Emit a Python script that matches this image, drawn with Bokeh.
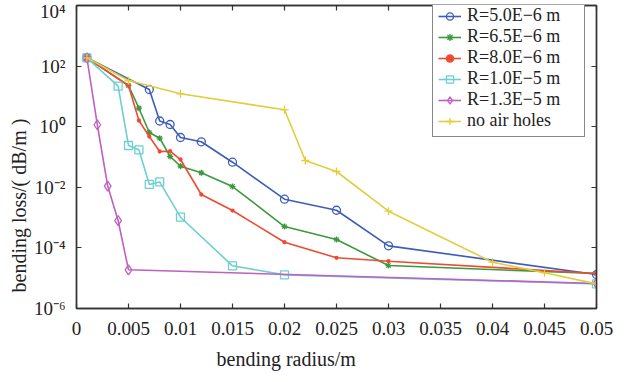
from bokeh.plotting import figure
from bokeh.models import Range1d, FixedTicker, CustomJSTickFormatter, LogAxis, LinearAxis, Title
from bokeh.embed import file_html
from bokeh.resources import INLINE

# ---- data ----
x_r50 = [0.001, 0.007, 0.008, 0.009, 0.010, 0.012, 0.015, 0.020, 0.025, 0.030, 0.050]
y_r50 = [188, 16.9, 1.54, 1.18, 0.44, 0.318, 0.0673, 0.00405, 0.00175, 1.17e-4, 1.32e-5]

x_r65 = [0.001, 0.005, 0.006, 0.007, 0.008, 0.009, 0.010, 0.012, 0.015, 0.020, 0.025, 0.030, 0.050]
y_r65 = [188, 22.9, 4.08, 0.644, 0.417, 0.104, 0.0497, 0.0301, 0.0106, 5.08e-4, 1.89e-4, 2.62e-5, 1.43e-5]

x_r80 = [0.001, 0.005, 0.006, 0.007, 0.008, 0.009, 0.010, 0.012, 0.015, 0.020, 0.025, 0.030, 0.050]
y_r80 = [188, 22.9, 1.6, 0.475, 0.152, 0.155, 0.0826, 0.00578, 0.00171, 1.54e-4, 4.71e-5, 3.64e-5, 1.43e-5]

x_r100 = [0.001, 0.004, 0.005, 0.006, 0.007, 0.008, 0.010, 0.015, 0.020, 0.050]
y_r100 = [188, 21.7, 0.24, 0.173, 0.0124, 0.015, 0.00103, 2.56e-5, 1.29e-5, 6.5e-6]

x_r130 = [0.001, 0.002, 0.003, 0.004, 0.005, 0.050]
y_r130 = [188, 1.16, 0.011, 8.0e-4, 1.89e-5, 6.7e-6]

x_noair = [0.001, 0.005, 0.010, 0.020, 0.022, 0.025, 0.030, 0.040, 0.045, 0.050]
y_noair = [188, 33.5, 12.2, 3.61, 0.0766, 0.0332, 0.00163, 3.37e-5, 1.51e-5, 6.5e-6]

x_ticks = [0, 0.005, 0.01, 0.015, 0.02, 0.025, 0.03, 0.035, 0.04, 0.045, 0.05]
y_ticks = [1e-6, 1e-4, 1e-2, 1e0, 1e2, 1e4]

x_title = "bending radius/m"
y_title = "bending loss/( dB/m )"

series = [
    ("R=5.0E\u22126 m", x_r50, y_r50, "#3d5db8", "circle", 8, False),
    ("R=6.5E\u22126 m", x_r65, y_r65, "#3c9a3c", "asterisk", 6, True),
    ("R=8.0E\u22126 m", x_r80, y_r80, "#f04a32", "circle", 3, True),
    ("R=1.0E\u22125 m", x_r100, y_r100, "#6fcfcf", "square", 8, False),
    ("R=1.3E\u22125 m", x_r130, y_r130, "#c060c0", "diamond", 10, False),
    ("no air holes", x_noair, y_noair, "#e2cd3c", "cross", 8, True),
]

FONT = "Liberation Serif"
TXT = "#222222"
AX = "#333333"

p = figure(width=625, height=382, x_range=Range1d(0, 0.05), y_range=Range1d(1e-6, 1e4),
           y_axis_type="log", output_backend="svg", toolbar_location=None,
           min_border_left=76, min_border_right=29, min_border_top=5, min_border_bottom=74)

p.xgrid.visible = False
p.ygrid.visible = False
p.outline_line_color = AX
p.outline_line_width = 1.4
p.background_fill_color = "white"
p.border_fill_color = "white"

for label, xs, ys, col, mk, sz, filled in series:
    p.line(xs, ys, line_color=col, line_width=1.6, legend_label=label)
    p.scatter(xs, ys, marker=mk, size=sz, line_color=col, line_width=1.3,
              fill_color=col if filled else None, legend_label=label)

x_fmt = CustomJSTickFormatter(code="return String(Number(tick.toFixed(3)));")
y_fmt = CustomJSTickFormatter(code="""
const e = Math.round(Math.log10(tick));
const sup = {'0':'\u2070','1':'\u00b9','2':'\u00b2','3':'\u00b3','4':'\u2074','5':'\u2075','6':'\u2076','7':'\u2077','8':'\u2078','9':'\u2079','-':'\u207b'};
return '10' + String(e).split('').map(c => sup[c]).join('');
""")
empty_fmt = CustomJSTickFormatter(code="return '';")

def style_axis(ax):
    ax.axis_line_color = AX
    ax.axis_line_width = 1.4
    ax.major_tick_line_color = AX
    ax.major_tick_line_width = 1.2
    ax.major_tick_in = 5
    ax.major_tick_out = 0
    ax.minor_tick_in = 0
    ax.minor_tick_out = 0
    ax.major_label_text_font = FONT
    ax.major_label_text_font_size = "19px"
    ax.major_label_text_color = TXT

xa = p.xaxis[0]
xa.ticker = FixedTicker(ticks=x_ticks, minor_ticks=[])
xa.formatter = x_fmt
style_axis(xa)
xa.major_label_standoff = 13

ya = p.yaxis[0]
ya.ticker = FixedTicker(ticks=y_ticks, minor_ticks=[])
ya.formatter = y_fmt
style_axis(ya)
ya.major_label_standoff = 11
ya.major_label_text_baseline = "top"

top = LinearAxis(ticker=FixedTicker(ticks=x_ticks, minor_ticks=[]), formatter=empty_fmt)
style_axis(top)
top.major_label_standoff = 0
p.add_layout(top, "above")

right = LogAxis(ticker=FixedTicker(ticks=y_ticks, minor_ticks=[]), formatter=empty_fmt)
style_axis(right)
right.major_label_standoff = 0
p.add_layout(right, "right")

# axis titles (the reference titles sit off-centre)
xt = Title(text=x_title, align="left", offset=140, standoff=17,
           text_font=FONT, text_font_size="20px", text_font_style="normal", text_color=TXT)
p.add_layout(xt, "below")
yt = Title(text=y_title, align="left", offset=16, standoff=2,
           text_font=FONT, text_font_size="20px", text_font_style="normal", text_color=TXT)
p.add_layout(yt, "left")

lg = p.legend[0]
lg.location = (356, 171)
lg.border_line_color = "#111111"
lg.border_line_width = 1.5
lg.background_fill_color = "white"
lg.background_fill_alpha = 1.0
lg.label_text_font = FONT
lg.label_text_font_size = "18px"
lg.label_text_color = TXT
lg.glyph_width = 23
lg.glyph_height = 18
lg.label_height = 18
lg.label_width = 112
lg.label_standoff = 6
lg.spacing = 0
lg.padding = 5
lg.margin = 0

open("out.html", "w", encoding="utf-8").write(file_html(p, INLINE))
